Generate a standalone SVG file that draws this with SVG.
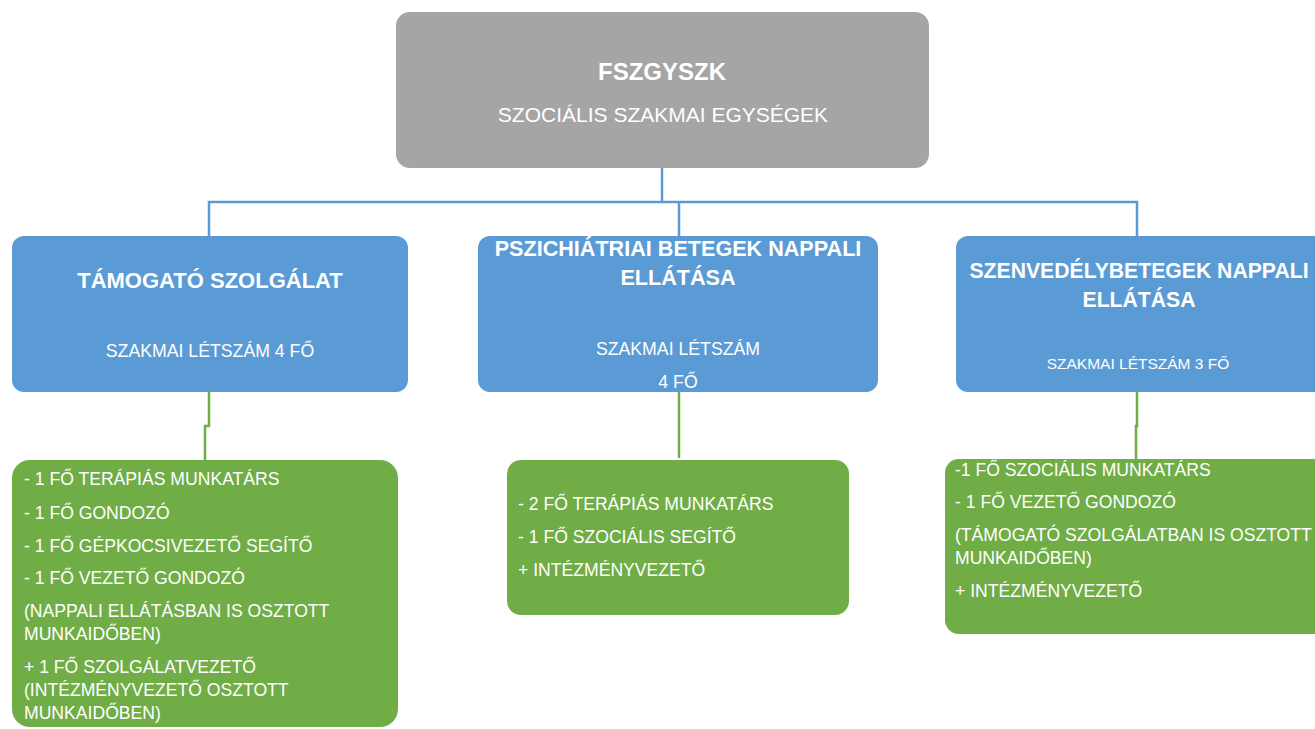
<svg xmlns="http://www.w3.org/2000/svg" width="1315" height="729" viewBox="0 0 1315 729">
<style>
text{font-family:"Liberation Sans",Arial,sans-serif;fill:#fff}
.t{font-weight:bold;text-anchor:middle}
.c{text-anchor:middle}
.l{font-size:17.6px}
.bl{fill:none;stroke:#5B9BD5;stroke-width:2.5}
.gr{fill:none;stroke:#70AD47;stroke-width:2.5}
</style>
<rect width="1315" height="729" fill="#fff"/>
<g id="connectors">
<polyline class="bl" points="662,168 662,202"/>
<polyline class="bl" points="209,236 209,202 1137,202 1137,236"/>
<polyline class="bl" points="679,202 679,236"/>
<polyline class="gr" points="209,392 209,426 205,426 205,460"/>
<polyline class="gr" points="679,392 679,458"/>
<polyline class="gr" points="1137,392 1137,426 1136,426 1136,460"/>
</g>
<g id="root">
<rect x="396" y="12" width="533" height="156" rx="14" fill="#A5A5A5"/>
<text class="t" x="662" y="80" font-size="24">FSZGYSZK</text>
<text class="c" x="663" y="122" font-size="21">SZOCIÁLIS SZAKMAI EGYSÉGEK</text>
</g>
<g id="tamogato">
<rect x="12" y="236" width="396" height="156" rx="12" fill="#5B9BD5"/>
<text class="t" x="210" y="288" font-size="22">TÁMOGATÓ SZOLGÁLAT</text>
<text class="c" x="210" y="357" font-size="17.7">SZAKMAI LÉTSZÁM 4 FŐ</text>
</g>
<g id="pszichiatriai">
<rect x="478" y="236" width="400" height="156" rx="12" fill="#5B9BD5"/>
<text class="t" x="678" y="256" font-size="21.6">PSZICHIÁTRIAI BETEGEK NAPPALI</text>
<text class="t" x="678" y="285" font-size="21.6">ELLÁTÁSA</text>
<text class="c" x="678" y="355" font-size="17.7">SZAKMAI LÉTSZÁM</text>
<text class="c" x="678" y="388" font-size="17.7">4 FŐ</text>
</g>
<g id="szenvedely">
<rect x="956" y="236" width="380" height="156" rx="12" fill="#5B9BD5"/>
<text class="t" x="1139" y="278" font-size="21.2">SZENVEDÉLYBETEGEK NAPPALI</text>
<text class="t" x="1139" y="307" font-size="21.2">ELLÁTÁSA</text>
<text class="c" x="1138" y="369" font-size="15.5">SZAKMAI LÉTSZÁM 3 FŐ</text>
</g>
<g id="tamogato-staff">
<rect x="12" y="460" width="386" height="267" rx="18" fill="#70AD47"/>
<text class="l" x="24" y="485">- 1 FŐ TERÁPIÁS MUNKATÁRS</text>
<text class="l" x="24" y="519">- 1 FŐ GONDOZÓ</text>
<text class="l" x="24" y="552">- 1 FŐ GÉPKOCSIVEZETŐ SEGÍTŐ</text>
<text class="l" x="24" y="584">- 1 FŐ VEZETŐ GONDOZÓ</text>
<text class="l" x="24" y="617">(NAPPALI ELLÁTÁSBAN IS OSZTOTT</text>
<text class="l" x="24" y="640">MUNKAIDŐBEN)</text>
<text class="l" x="24" y="673">+ 1 FŐ SZOLGÁLATVEZETŐ</text>
<text class="l" x="24" y="696">(INTÉZMÉNYVEZETŐ OSZTOTT</text>
<text class="l" x="24" y="719">MUNKAIDŐBEN)</text>
</g>
<g id="pszichiatriai-staff">
<rect x="507" y="460" width="342" height="155" rx="14" fill="#70AD47"/>
<text class="l" x="518" y="510">- 2 FŐ TERÁPIÁS MUNKATÁRS</text>
<text class="l" x="518" y="543">- 1 FŐ SZOCIÁLIS SEGÍTŐ</text>
<text class="l" x="518" y="576">+ INTÉZMÉNYVEZETŐ</text>
</g>
<g id="szenvedely-staff">
<rect x="945" y="459" width="390" height="175" rx="14" fill="#70AD47"/>
<text class="l" x="955" y="476">-1 FŐ SZOCIÁLIS MUNKATÁRS</text>
<text class="l" x="955" y="508">- 1 FŐ VEZETŐ GONDOZÓ</text>
<text class="l" x="955" y="541">(TÁMOGATÓ SZOLGÁLATBAN IS OSZTOTT</text>
<text class="l" x="955" y="564">MUNKAIDŐBEN)</text>
<text class="l" x="955" y="597">+ INTÉZMÉNYVEZETŐ</text>
</g>
</svg>
